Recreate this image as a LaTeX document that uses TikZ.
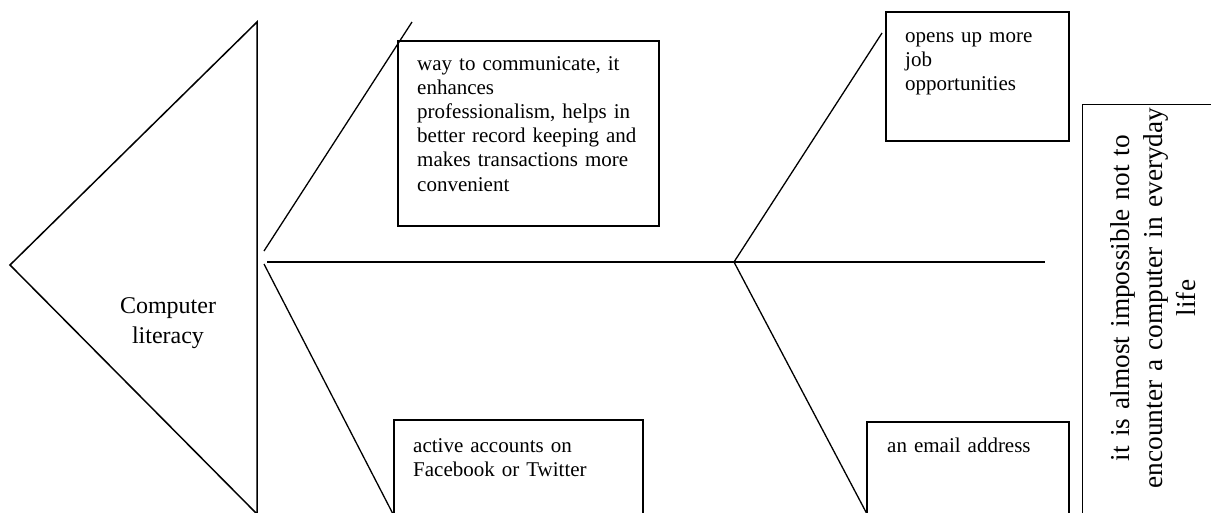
\documentclass[tikz,border=0pt]{standalone}
\usepackage{fontspec}
\setmainfont{Liberation Serif}
\begin{document}
\begin{tikzpicture}[x=1pt, y=-1pt,
        box/.style={draw, line width=1.8pt, anchor=north west, inner sep=0pt},
        bone/.style={line width=1.3pt},
        boxtext/.style={anchor=base west, align=left, text width=#1, inner sep=0pt,
            font=\fontsize{21}{24.2}\selectfont}]

        \clip (0,0) rectangle (1211,512);

        % Head
        \coordinate (headtop) at (257,22);
        \coordinate (headtip) at (10,265);
        \coordinate (headbot) at (257,514);
        \draw[line width=1.5pt] (headtop) -- (headtip) -- (headbot) -- cycle;
        \node[align=center, text width=140, inner sep=0pt, anchor=base,
            font=\fontsize{24}{30}\selectfont] (topic) at (168,313) {Computer\\literacy};

        % Spine
        \coordinate (spinestart) at (267,262);
        \coordinate (spineend) at (1045,262);
        \coordinate (joint) at (734,262);
        \draw[bone] (spinestart) -- (spineend);

        % Bones
        \coordinate (upstartA) at (264,251);
        \coordinate (upendA) at (412,22);
        \coordinate (lowstartA) at (264,264);
        \coordinate (lowendA) at (393,514);
        \coordinate (upendB) at (882,33);
        \coordinate (lowendB) at (867,514);
        \draw[bone] (upstartA) -- (upendA);
        \draw[bone] (lowstartA) -- (lowendA);
        \draw[bone] (joint) -- (upendB);
        \draw[bone] (joint) -- (lowendB);

        % Cause boxes, upper row
        \node[box, minimum width=261, minimum height=185] (commbox) at (397,40) {};
        \node[boxtext=240] (commtext) at (417,70) {way to communicate, it\\enhances\\professionalism, helps in\\better record keeping and\\makes transactions more\\convenient};

        \node[box, minimum width=183, minimum height=129] (jobbox) at (885,11) {};
        \node[boxtext=160] (jobtext) at (905,42) {opens up more\\job\\opportunities};

        % Cause boxes, lower row
        \node[box, minimum width=249, minimum height=120] (socialbox) at (393,419) {};
        \node[boxtext=220] (socialtext) at (413,452) {active accounts on\\Facebook or Twitter};

        \node[box, minimum width=202, minimum height=120] (mailbox) at (866,421) {};
        \node[boxtext=180] (mailtext) at (887,452) {an email address};

        % Effect box
        \node[draw, line width=1.2pt, anchor=north west, inner sep=0pt,
            minimum width=160, minimum height=440] (effectbox) at (1082,104) {};
        \node[rotate=90, align=center, text width=400, inner sep=0pt,
            font=\fontsize{27.3}{33}\selectfont] (effecttext) at (1153,298)
            {it is almost impossible not to\\encounter a computer in everyday\\life};

    \end{tikzpicture}
\end{document}
